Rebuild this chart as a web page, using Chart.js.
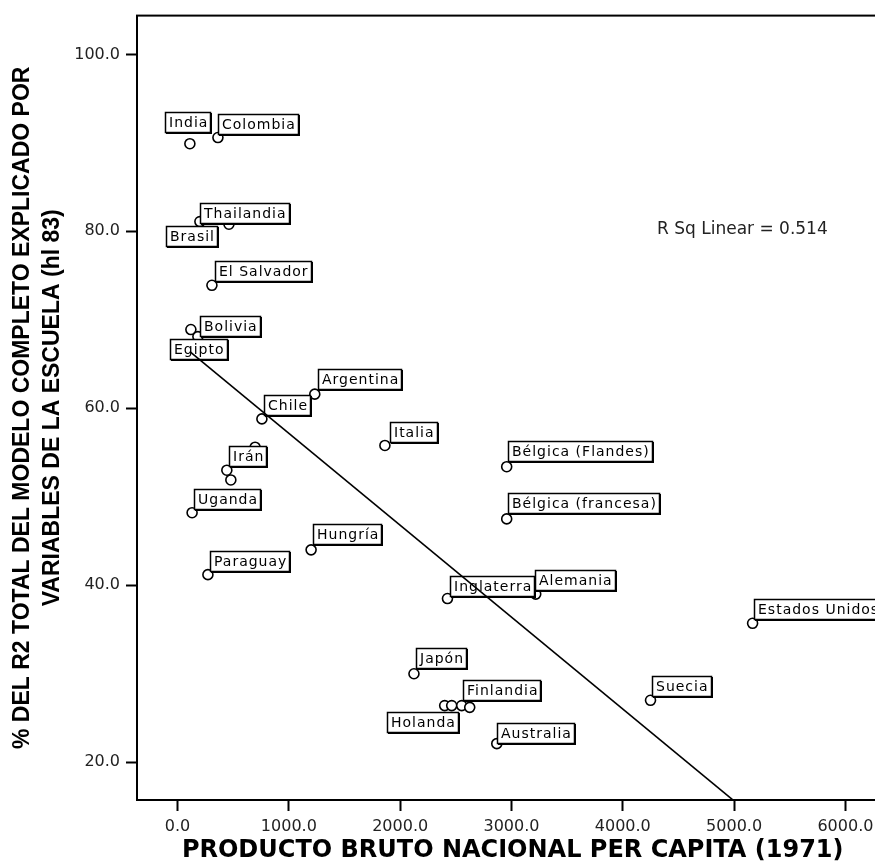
<!DOCTYPE html>
<html>
<head>
<meta charset="utf-8">
<script src="https://cdn.jsdelivr.net/npm/chart.js@4"></script>
<style>
  html, body { margin: 0; padding: 0; background: #fff; overflow: hidden; }
  #wrap { width: 895px; height: 863px; }
</style>
</head>
<body>
<div id="wrap"><canvas id="chart" width="895" height="863"></canvas></div>
<script>
// countries ('' = point without label), GNP per capita 1971, % of R2 explained by school variables
var countries = ['India', 'Colombia', 'Thailandia', 'Brasil', 'El Salvador', 'Bolivia', 'Egipto',
  'Argentina', 'Chile', 'Italia', 'Irán', '', '', 'Uganda', 'Hungría', 'Paraguay',
  'Bélgica (Flandes)', 'Bélgica (francesa)', 'Inglaterra', 'Alemania', 'Estados Unidos',
  'Japón', 'Holanda', '', 'Finlandia', '', 'Australia', 'Suecia'];
var gnp = [111, 363, 201, 462, 309, 120, 183,
  1233, 758, 1863, 443, 479, 697, 131, 1200, 273,
  2957, 2957, 2425, 3218, 5166,
  2124, 2400, 2463, 2553, 2625, 2868, 4249];
var r2 = [89.9, 90.6, 81.1, 80.8, 73.9, 68.9, 68.1,
  61.6, 58.8, 55.8, 53.0, 51.9, 55.6, 48.2, 44.0, 41.2,
  53.4, 47.5, 38.5, 39.0, 35.7,
  30.0, 26.4, 26.4, 26.4, 26.2, 22.1, 27.0];

// fit line end points
var fitX = [111, 5166];
var fitY = [66.4, 13.9];

var xTicks = [0, 1000, 2000, 3000, 4000, 5000, 6000];
var yTicks = [20, 40, 60, 80, 100];
var rSqText = 'R Sq Linear = 0.514';

// where each label box sits (top-left corner relative to its point)
var labelOffsets = {
  'India': [-25, -32], 'Colombia': [0, -24], 'Thailandia': [0, -19], 'Brasil': [-63, 2],
  'El Salvador': [3, -24], 'Bolivia': [9, -14], 'Egipto': [-28, 2], 'Argentina': [3, -25],
  'Italia': [5, -23], 'Hungría': [2, -26], 'Bélgica (Flandes)': [1, -26],
  'Bélgica (francesa)': [1, -26], 'Inglaterra': [3, -23], 'Alemania': [-1, -24],
  'Estados Unidos': [1, -24], 'Japón': [2, -26], 'Finlandia': [1, -26], 'Holanda': [-58, 6],
  'Australia': [0, -21], 'Suecia': [1, -24]
};

var points = gnp.map(function(v, i) { return {x: v, y: r2[i]} });
var fitLine = fitX.map(function(v, i) { return {x: v, y: fitY[i]} });

var pointLabels = {
  id: 'pointLabels',
  afterDatasetDraw: function(chart, args) {
    if (args.index !== 1) return;
    var ctx = chart.ctx;
    var meta = chart.getDatasetMeta(1);
    ctx.save();
    ctx.font = '14px "DejaVu Sans"';
    ctx.letterSpacing = '1px';
    ctx.textBaseline = 'middle';
    meta.data.forEach(function(el, i) {
      var text = countries[i];
      if (!text) return;
      var off = labelOffsets[text] || [2, -24];
      var w = Math.round(ctx.measureText(text).width + 7);
      var h = 21;
      var bx = Math.round(el.x + off[0]), by = Math.round(el.y + off[1]);
      ctx.fillStyle = '#000';
      ctx.fillRect(bx + 1, by + 1, w, h);
      ctx.fillStyle = '#fff';
      ctx.fillRect(bx, by, w, h);
      ctx.strokeStyle = '#000';
      ctx.lineWidth = 1.5;
      ctx.strokeRect(bx + 0.5, by + 0.5, w - 1, h - 1);
      ctx.fillStyle = '#000';
      ctx.fillText(text, bx + 4, by + h / 2 + 1);
    });
    ctx.restore();
  },
  afterDraw: function(chart) {
    var ctx = chart.ctx, a = chart.chartArea;
    ctx.save();
    ctx.strokeStyle = '#000';
    ctx.lineWidth = 2;
    ctx.strokeRect(a.left, a.top, a.right - a.left, a.bottom - a.top);
    ctx.font = '17px "DejaVu Sans"';
    ctx.fillStyle = '#222';
    ctx.textBaseline = 'middle';
    ctx.fillText(rSqText, 657, 230);
    ctx.restore();
  }
};

new Chart(document.getElementById('chart'), {
  data: {
    datasets: [{
      type: 'line',
      data: fitLine,
      borderColor: '#000',
      borderWidth: 1.6,
      pointRadius: 0,
      fill: false
    }, {
      type: 'scatter',
      data: points,
      pointRadius: 5,
      pointBorderWidth: 1.6,
      pointBorderColor: '#000',
      pointBackgroundColor: '#fff'
    }]
  },
  options: {
    responsive: false,
    animation: false,
    events: [],
    layout: { padding: { top: 11, right: 6, left: 0, bottom: 0 } },
    plugins: { legend: { display: false }, tooltip: { enabled: false } },
    scales: {
      x: {
        type: 'linear',
        min: -364,
        max: 6386,
        afterFit: function(scale) { scale.height = 63 },
        afterBuildTicks: function(scale) {
          scale.ticks = xTicks.map(function(v) { return {value: v} })
        },
        border: { display: true, color: '#000', width: 2 },
        grid: { display: true, drawOnChartArea: false, drawTicks: true, tickLength: 11, tickColor: '#000', tickWidth: 2 },
        ticks: {
          autoSkip: false, maxRotation: 0, padding: 6, color: '#222',
          font: { family: 'DejaVu Sans', size: 16 },
          callback: function(v) { return Number(v).toFixed(1) }
        },
        title: {
          display: true,
          text: 'PRODUCTO BRUTO NACIONAL PER CAPITA (1971)',
          color: '#000',
          font: { family: 'DejaVu Sans', size: 24, weight: 'bold', lineHeight: 1 },
          padding: { top: 0, bottom: 0 }
        }
      },
      y: {
        type: 'linear',
        min: 15.73,
        max: 104.38,
        afterFit: function(scale) { scale.width = 137 },
        afterBuildTicks: function(scale) {
          scale.ticks = yTicks.map(function(v) { return {value: v} })
        },
        border: { display: true, color: '#000', width: 2 },
        grid: { display: true, drawOnChartArea: false, drawTicks: true, tickLength: 11, tickColor: '#000', tickWidth: 2 },
        ticks: {
          autoSkip: false, padding: 6, color: '#222',
          font: { family: 'DejaVu Sans', size: 16 },
          callback: function(v) { return Number(v).toFixed(1) }
        },
        title: {
          display: true,
          text: ['% DEL R2 TOTAL DEL MODELO COMPLETO EXPLICADO POR', 'VARIABLES DE LA ESCUELA (hl 83)'],
          color: '#000',
          font: { family: 'Liberation Sans', size: 23, weight: 'bold', lineHeight: '30px' },
          padding: { top: 8, bottom: 0 }
        }
      }
    }
  },
  plugins: [pointLabels]
});
</script>
</body>
</html>
